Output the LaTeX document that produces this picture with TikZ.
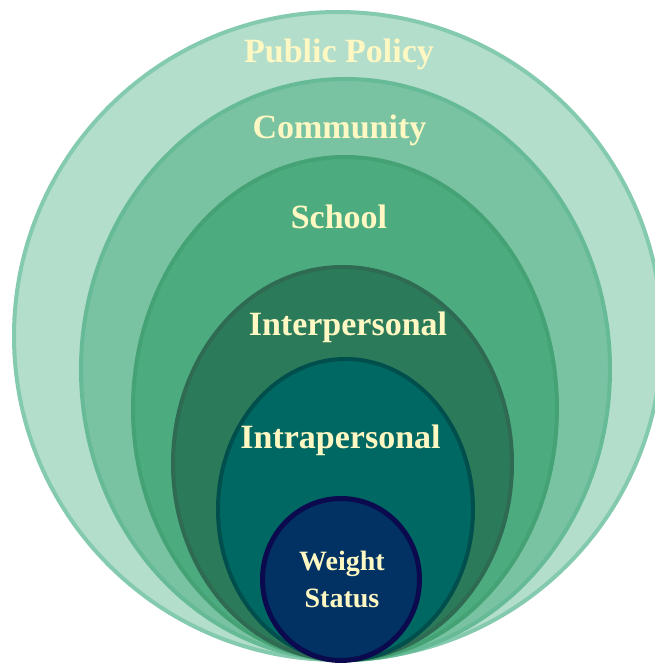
\documentclass[tikz,border=0pt]{standalone}
\usepackage{tikz}
\usepackage{fontspec}
\setmainfont{Liberation Serif}

\definecolor{policyfill}{HTML}{B3DECC}
\definecolor{policyline}{HTML}{84CAAE}
\definecolor{communityfill}{HTML}{79C3A3}
\definecolor{communityline}{HTML}{66BB96}
\definecolor{schoolfill}{HTML}{4CAC80}
\definecolor{schoolline}{HTML}{44A275}
\definecolor{interfill}{HTML}{2B7A5A}
\definecolor{interline}{HTML}{2F6B52}
\definecolor{intrafill}{HTML}{006863}
\definecolor{intraline}{HTML}{004F4C}
\definecolor{weightfill}{HTML}{013263}
\definecolor{weightline}{HTML}{0C0A4E}
\definecolor{labeltext}{HTML}{FFF8C2}

\tikzset{
  ring/.style={line width=4pt},
  lbl/.style={text=labeltext, font=\bfseries\fontsize{34}{36}\selectfont},
}

\begin{document}
\begin{tikzpicture}[x=1pt,y=1pt]

			\useasboundingbox (0,0) rectangle (655,665);
			\clip (0,0) rectangle (655,665);

			% rings, outside in
			\draw[ring, draw=policyline, fill=policyfill] (338,329) ellipse [x radius=324, y radius=324];
			\draw[ring, draw=communityline, fill=communityfill] (345.5,295.5) ellipse [x radius=264.5, y radius=290.5];
			\draw[ring, draw=schoolline, fill=schoolfill] (345,256.5) ellipse [x radius=212, y radius=251.5];
			\draw[ring, draw=interline, fill=interfill] (342.5,201.5) ellipse [x radius=169.5, y radius=196.5];
			\draw[ring, draw=intraline, fill=intrafill] (345.5,155.5) ellipse [x radius=127.5, y radius=150.5];

			% centre circle
			\draw[line width=5pt, draw=weightline, fill=weightfill] (341,85.5) ellipse [x radius=78.5, y radius=81];

			%labels rings
			\draw	(339,602) node[lbl, anchor=base] (policy) {Public Policy};
			\draw	(339.5,526) node[lbl, anchor=base] (community) {Community};
			\draw	(339,436) node[lbl, anchor=base] (school) {School};
			\draw	(348,329) node[lbl, anchor=base] (inter) {Interpersonal};
			\draw	(340.5,216) node[lbl, anchor=base] (intra) {Intrapersonal};

			%label centre
			\draw	(342,86) node[lbl, font=\bfseries\fontsize{28}{37}\selectfont, align=center] (weight) {Weight\\Status};

\end{tikzpicture}
\end{document}
